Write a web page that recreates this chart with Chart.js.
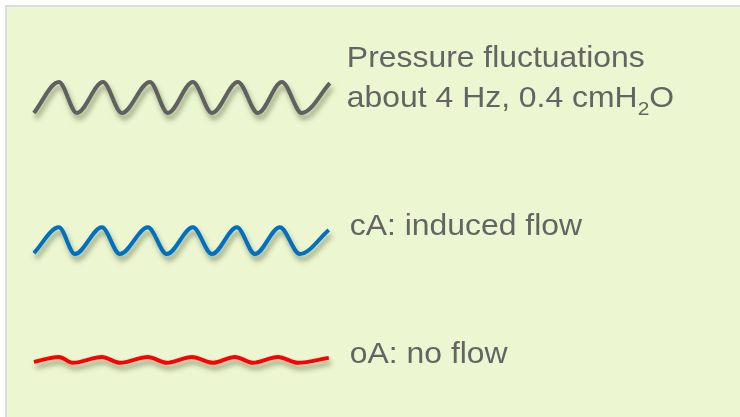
<!DOCTYPE html>
<html>
<head>
<meta charset="utf-8">
<script src="https://cdn.jsdelivr.net/npm/chart.js@4/dist/chart.umd.min.js"></script>
<style>
  body { margin: 0; background: #ffffff; }
  #box {
    position: absolute; left: 5px; top: 5px; width: 734px; height: 412px;
    background: #ecf6d0; border-top: 2px solid #dcdcdc; border-left: 2px solid #dcdcdc;
  }
  #wrap { position: absolute; left: 0; top: 0; width: 740px; height: 417px; }
</style>
</head>
<body>
<div id="box"></div>
<div id="wrap"><canvas id="mycanvas" width="740" height="417"></canvas></div>
<script>
// time in ms (peaks and troughs)
var pressureTime = [0, 140, 241, 387, 493, 650, 751, 891, 998, 1143, 1256, 1390, 1502, 1659];
var pressureVal  = [-0.4, 0.4, -0.4, 0.4, -0.4, 0.4, -0.4, 0.4, -0.4, 0.4, -0.4, 0.4, -0.4, 0.37];

var cATime = [0, 140, 230, 381, 482, 639, 745, 891, 998, 1138, 1239, 1379, 1491, 1653];
var cAFlow = [-0.93, 1, -1, 1, -1, 1, -1, 1, -1, 1, -1, 1, -1, 0.8];

var oATime = [0, 140, 219, 381, 482, 639, 745, 886, 1003, 1127, 1228, 1368, 1480, 1653];
var oAFlow = [-0.15, 0.22, -0.22, 0.22, -0.22, 0.22, -0.22, 0.22, -0.22, 0.22, -0.22, 0.22, -0.22, 0.15];

var seriesLabels = [
  ['Pressure fluctuations', 'about 4 Hz, 0.4 cmH_2O'],
  ['cA: induced flow'],
  ['oA: no flow']
];

function toPoints(t, v) {
  var pts = [];
  for (var i in t) {
    pts.push({ x: t[i], y: v[i] });
  }
  return pts;
}

var shadowPlugin = {
  id: 'shadow',
  beforeDatasetDraw: function (chart) {
    var ctx = chart.ctx;
    ctx.save();
    ctx.shadowColor = 'rgba(70,80,40,0.5)';
    ctx.shadowBlur = 5;
    ctx.shadowOffsetX = 2;
    ctx.shadowOffsetY = 5;
  },
  afterDatasetDraw: function (chart) {
    chart.ctx.restore();
  }
};

// labels to the right of each trace end
var labelPlugin = {
  id: 'traceLabels',
  afterDatasetsDraw: function (chart) {
    var ctx = chart.ctx;
    chart.data.datasets.forEach(function (ds, i) {
      var meta = chart.getDatasetMeta(i);
      var last = meta.data[meta.data.length - 1];
      var yScale = chart.scales[ds.yAxisID];
      var x0 = last.x + ds.labelDx;
      var y0 = yScale.getPixelForValue(0) + ds.labelDy;
      var lines = seriesLabels[i];
      ctx.save();
      ctx.fillStyle = '#646464';
      ctx.textBaseline = 'alphabetic';
      for (var l = 0; l < lines.length; l++) {
        ctx.save();
        ctx.translate(x0, y0 + l * 40);
        ctx.scale(1.1, 1);
        var parts = lines[l].split('_');
        var cx = 0;
        ctx.font = '29px "Liberation Sans", Arial, sans-serif';
        ctx.fillText(parts[0], cx, 0);
        cx += ctx.measureText(parts[0]).width;
        if (parts.length > 1) {
          ctx.font = '19px "Liberation Sans", Arial, sans-serif';
          ctx.fillText(parts[1].charAt(0), cx, 8);
          cx += ctx.measureText(parts[1].charAt(0)).width;
          ctx.font = '29px "Liberation Sans", Arial, sans-serif';
          ctx.fillText(parts[1].substring(1), cx, 0);
        }
        ctx.restore();
      }
      ctx.restore();
    });
  }
};

var ctx = document.getElementById('mycanvas').getContext('2d');

var waveChart = new Chart(ctx, {
  type: 'line',
  data: {
    datasets: [
      {
        label: 'Pressure',
        data: toPoints(pressureTime, pressureVal),
        borderColor: '#606060',
        yAxisID: 'yP',
        labelDx: 17, labelDy: -30.5
      },
      {
        label: 'cA',
        data: toPoints(cATime, cAFlow),
        borderColor: '#0070c0',
        yAxisID: 'yC',
        labelDx: 21, labelDy: -5.5
      },
      {
        label: 'oA',
        data: toPoints(oATime, oAFlow),
        borderColor: '#ff0000',
        yAxisID: 'yO',
        labelDx: 21, labelDy: 3
      }
    ]
  },
  options: {
    responsive: false,
    animation: false,
    layout: { padding: 0 },
    elements: {
      line: { borderWidth: 4, cubicInterpolationMode: 'monotone', fill: false, borderCapStyle: 'butt' },
      point: { radius: 0, hoverRadius: 0 }
    },
    datasets: { line: { clip: false } },
    plugins: { legend: { display: false }, tooltip: { enabled: false } },
    scales: {
      x: { type: 'linear', min: -190, max: 3958, display: false },
      yP: { type: 'linear', min: -8.245, max: 2.516, display: false },
      yC: { type: 'linear', min: -13.21, max: 18.03, display: false },
      yO: { type: 'linear', min: -4.28, max: 26.96, display: false }
    }
  },
  plugins: [shadowPlugin, labelPlugin]
});
</script>
</body>
</html>
